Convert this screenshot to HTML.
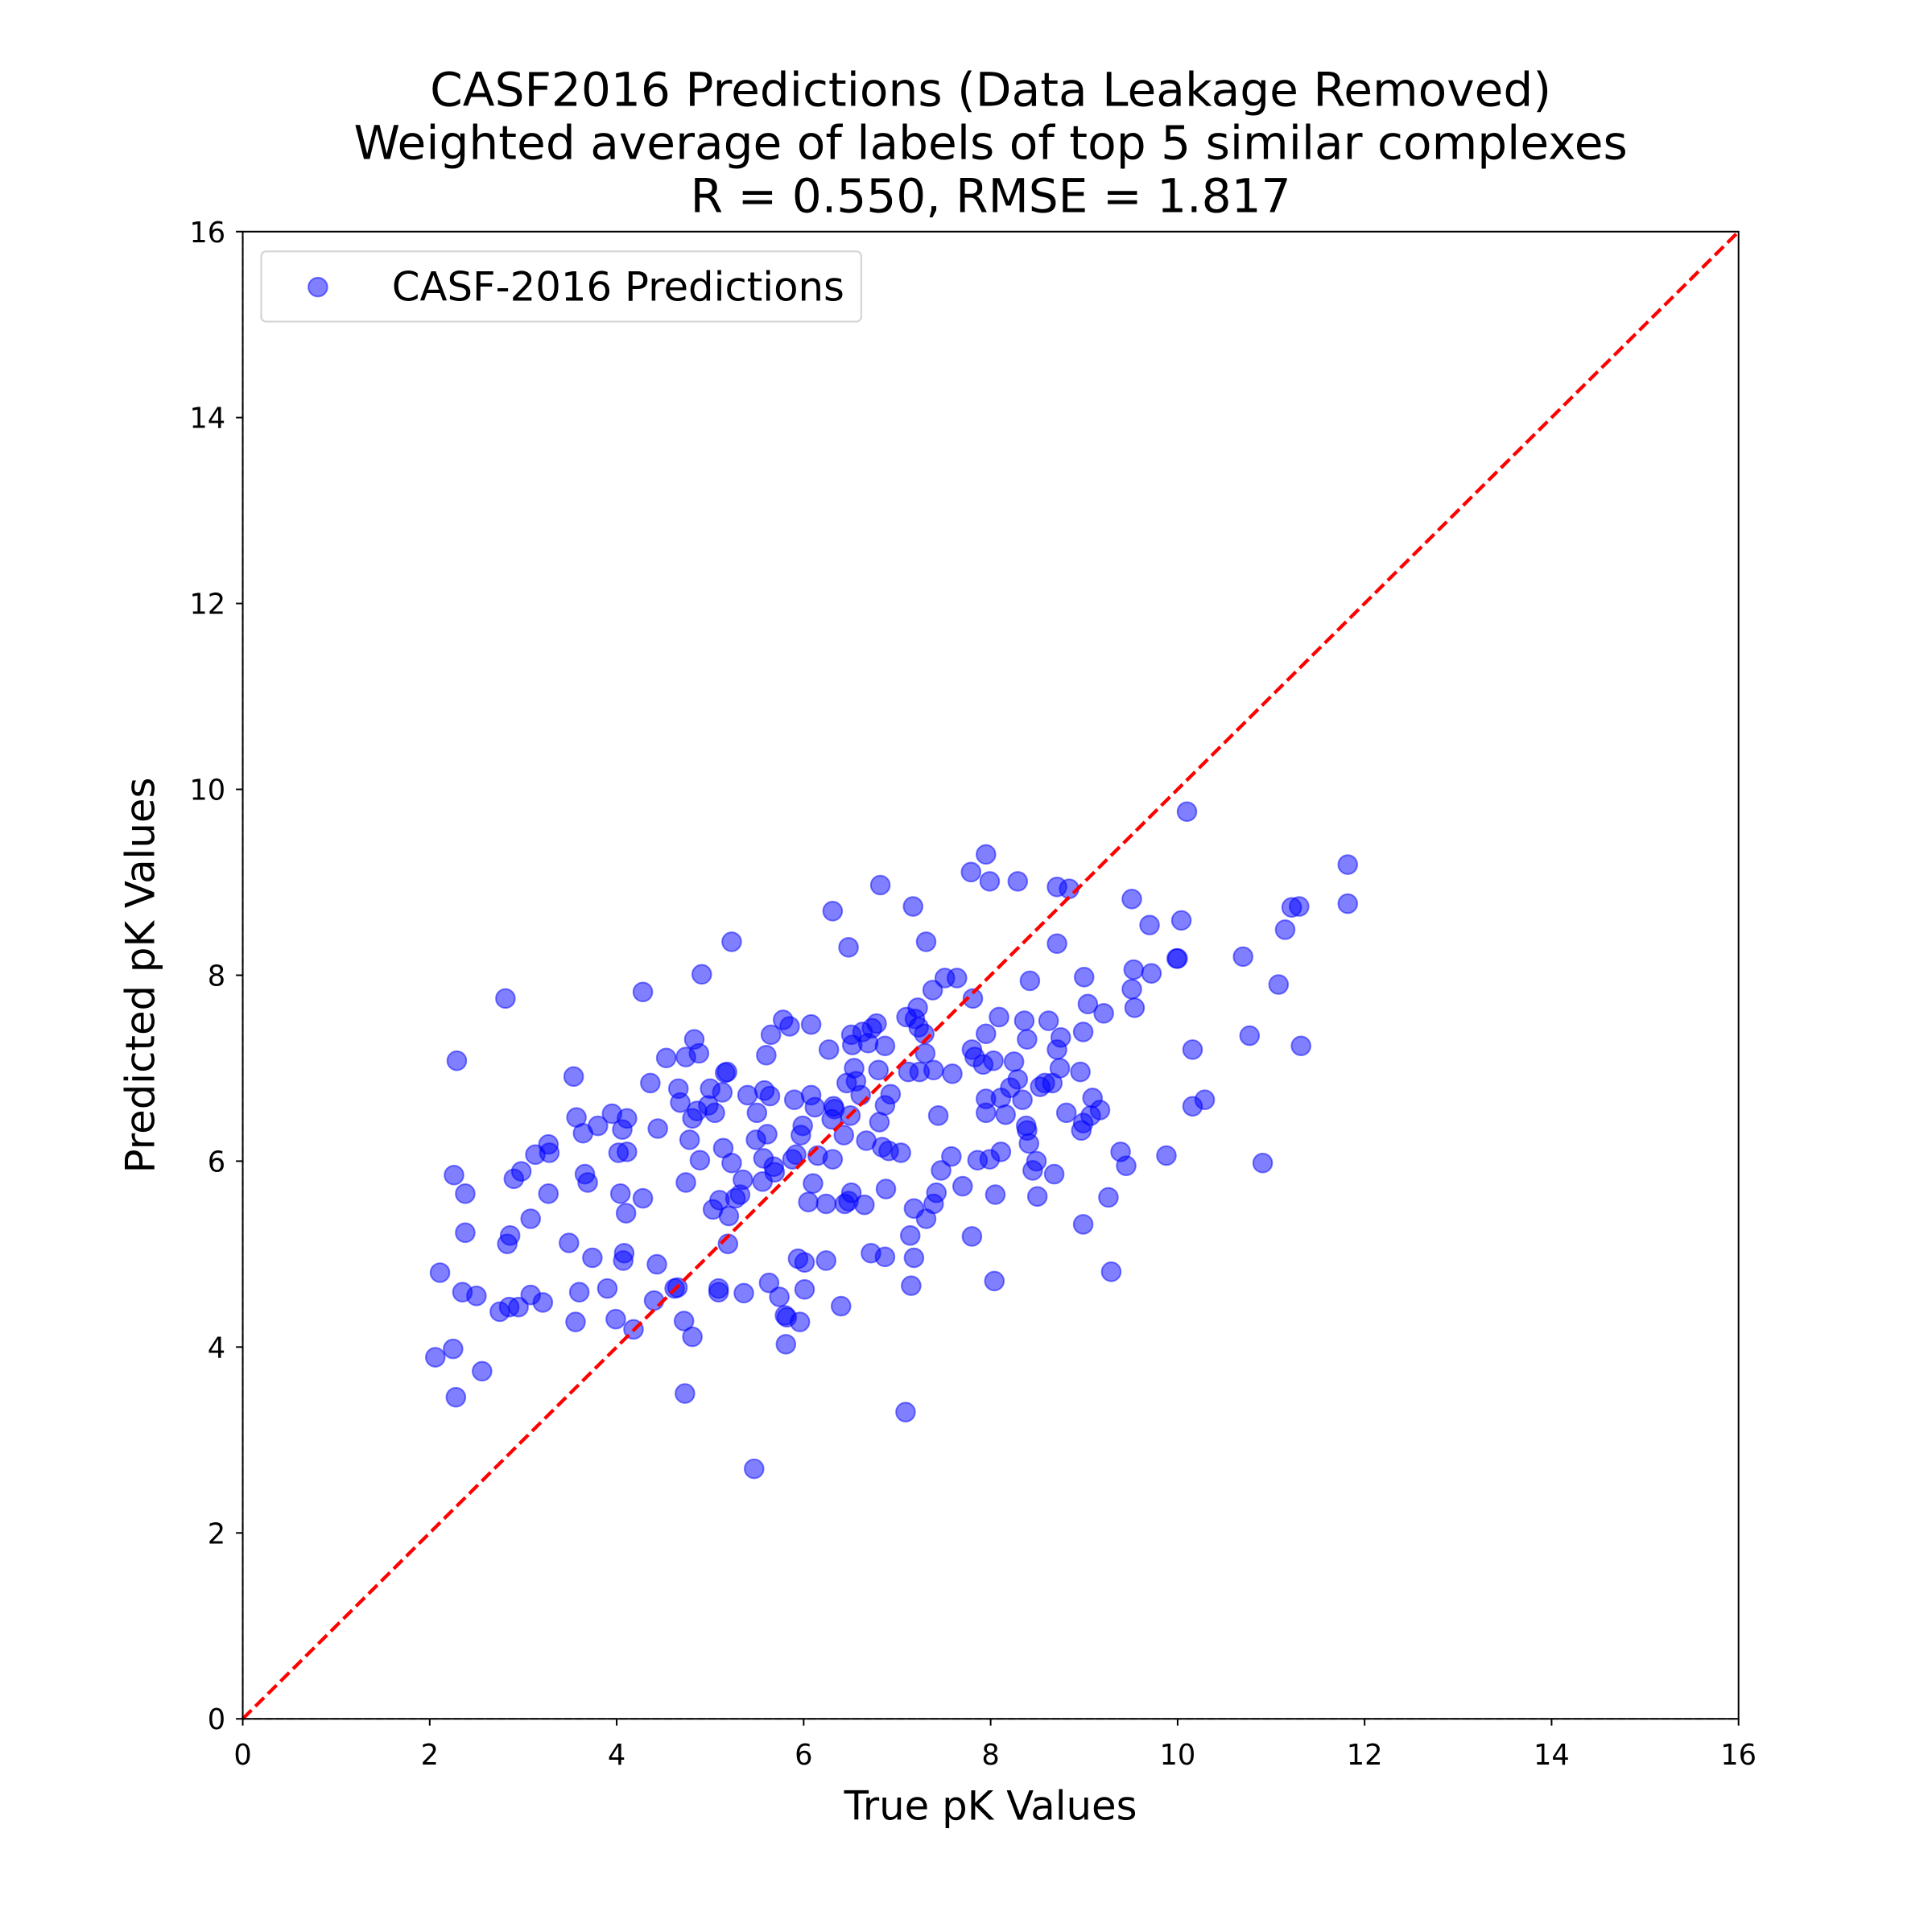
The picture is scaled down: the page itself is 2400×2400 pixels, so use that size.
<!DOCTYPE html>
<html><head><meta charset="utf-8"><style>
html,body{margin:0;padding:0;background:#fff;}
svg{display:block;font-family:"DejaVu Sans","Liberation Sans",sans-serif;}
</style></head><body>
<svg id="chart" width="2400" height="2400" viewBox="0 0 1568 1568" xmlns="http://www.w3.org/2000/svg">
<rect width="1568" height="1568" fill="#fff"/>
<g font-size="38" text-anchor="middle" fill="#000">
<text x="804" y="86">CASF2016 Predictions (Data Leakage Removed)</text>
<text x="804" y="129">Weighted average of labels of top 5 similar complexes</text>
<text x="804" y="172">R = 0.550, RMSE = 1.817</text>
</g>
<g id="grid"></g>
<g id="points"></g>
<g id="axes"></g>
</svg>
<script>
const xTicks=[0,2,4,6,8,10,12,14,16];
const yTicks=[0,2,4,6,8,10,12,14,16];
const trueVals=[2.06,2.11,2.25,2.28,2.26,2.29,2.35,2.38,2.38,2.50,2.56,2.75,2.81,2.83,2.86,2.85,2.90,2.95,2.98,3.08,3.08,3.13,3.21,3.27,3.28,3.27,3.49,3.54,3.56,3.57,3.60,3.64,3.66,3.69,3.74,3.80,3.90,3.95,3.99,4.02,4.04,4.06,4.07,4.08,4.11,4.11,4.10,4.18,4.28,4.28,4.36,4.40,4.43,4.44,4.53,4.62,4.65,4.66,4.68,4.72,4.74,4.73,4.74,4.78,4.81,4.81,4.83,4.86,4.88,4.89,4.91,4.98,5.00,5.03,5.05,5.09,5.09,5.10,5.13,5.14,5.16,5.18,5.19,5.20,5.23,5.23,5.27,5.32,5.36,5.35,5.40,5.47,5.49,5.50,5.56,5.57,5.58,5.60,5.61,5.63,5.64,5.65,5.68,5.69,5.74,5.78,5.80,5.81,5.82,5.85,5.88,5.90,5.92,5.94,5.96,5.97,5.99,6.01,6.01,6.05,6.08,6.08,6.10,6.12,6.15,6.24,6.24,6.27,6.30,6.31,6.31,6.32,6.33,6.40,6.43,6.44,6.46,6.48,6.48,6.50,6.51,6.51,6.52,6.54,6.56,6.61,6.63,6.65,6.67,6.69,6.72,6.73,6.78,6.80,6.81,6.82,6.84,6.87,6.87,6.87,6.88,6.91,6.93,7.04,7.09,7.10,7.12,7.14,7.15,7.17,7.18,7.18,7.19,7.22,7.23,7.24,7.29,7.30,7.31,7.31,7.38,7.39,7.39,7.42,7.44,7.47,7.51,7.58,7.59,7.64,7.70,7.79,7.80,7.80,7.81,7.83,7.86,7.92,7.95,7.95,7.95,7.95,7.99,7.99,8.03,8.04,8.05,8.09,8.11,8.11,8.16,8.21,8.25,8.29,8.29,8.34,8.36,8.38,8.39,8.39,8.41,8.42,8.45,8.49,8.50,8.53,8.58,8.62,8.66,8.68,8.71,8.71,8.71,8.74,8.75,8.81,8.84,8.96,8.97,8.99,8.99,8.99,9.00,9.04,9.07,9.09,9.17,9.21,9.26,9.29,9.39,9.45,9.51,9.51,9.53,9.54,9.70,9.72,9.88,9.99,10.00,10.04,10.10,10.16,10.16,10.29,10.70,10.77,10.91,11.08,11.15,11.22,11.30,11.32,11.82,11.82];
const predVals=[3.89,4.80,3.98,3.46,5.85,7.08,4.59,5.65,5.23,4.55,3.74,4.38,7.75,5.11,5.20,4.43,5.81,4.43,5.89,4.56,5.38,6.07,4.48,6.18,6.09,5.65,5.12,6.91,4.27,6.47,4.59,6.30,5.86,5.77,4.96,6.38,4.63,6.51,4.30,6.09,5.65,6.34,4.93,5.01,6.46,6.10,5.44,4.19,7.82,5.60,6.84,4.50,4.89,6.35,7.11,4.63,4.64,6.78,6.63,4.28,7.12,3.50,5.77,6.23,4.11,6.46,7.31,6.54,7.16,6.01,8.01,6.60,6.78,5.48,6.52,4.63,4.59,5.58,6.74,6.14,6.95,6.96,5.11,5.41,8.36,5.98,5.60,5.64,4.58,5.80,6.71,2.69,6.23,6.52,5.78,6.03,6.76,7.14,6.29,4.69,6.70,7.36,5.94,5.88,4.54,7.52,4.34,4.03,4.32,7.45,6.02,6.66,6.07,4.95,4.27,6.28,6.38,4.91,4.62,5.56,7.47,6.71,5.76,6.58,6.06,5.54,4.93,7.20,6.45,6.02,8.69,6.59,6.56,4.44,6.28,5.54,6.84,5.57,8.30,6.49,5.66,7.36,7.25,7.00,6.86,6.71,7.39,5.53,6.22,7.27,5.01,7.43,7.48,6.98,6.42,8.97,6.15,6.60,7.24,4.97,5.70,6.11,6.72,6.09,3.30,7.55,6.96,5.20,4.66,8.74,4.96,5.49,7.53,7.65,7.44,6.96,7.37,7.16,8.36,5.38,7.84,6.98,5.54,5.66,6.49,5.90,7.97,6.05,6.94,7.97,5.73,9.11,5.19,7.20,7.75,7.12,6.01,7.04,9.30,6.52,7.37,6.67,9.01,6.02,7.08,4.71,5.64,7.55,6.10,6.68,6.50,6.79,7.07,9.01,6.88,6.66,7.51,6.38,7.31,6.33,6.19,7.94,5.90,6.00,5.62,6.80,6.84,7.51,6.84,5.86,8.95,8.34,7.20,7.00,7.33,6.52,8.93,6.96,6.33,7.39,6.41,5.32,7.98,7.69,6.49,6.68,6.55,7.59,5.61,4.81,6.10,5.95,8.82,7.85,8.06,7.65,8.54,8.02,6.06,8.18,8.18,8.59,9.76,7.20,6.59,6.66,8.20,7.35,5.98,7.90,8.49,8.73,8.74,7.24,9.19,8.77];

const NS='http://www.w3.org/2000/svg';
const X0=197,X1=1411,Y0=1395,Y1=188,MIN=0,MAX=16;
function xs(v){return X0+(v-MIN)/(MAX-MIN)*(X1-X0);}
function ys(v){return Y0-(v-MIN)/(MAX-MIN)*(Y0-Y1);}
function mk(tag,attrs,parent){const e=document.createElementNS(NS,tag);for(const k in attrs)e.setAttribute(k,attrs[k]);parent.appendChild(e);return e;}

const grid=document.getElementById('grid');
const pts=document.getElementById('points');
const axes=document.getElementById('axes');

let zl=mk('line',{x1:xs(0),y1:ys(0),x2:xs(16),y2:ys(0),stroke:'#000','stroke-opacity':0.3,'stroke-width':1.5,'stroke-dasharray':'6,3'},grid);


let zv=mk('line',{x1:xs(0),y1:ys(0),x2:xs(0),y2:ys(16),stroke:'#000','stroke-opacity':0.3,'stroke-width':1.5,'stroke-dasharray':'6,3'},grid);



for(let i=0;i<trueVals.length;i++){
  const c=mk('circle',{cx:xs(trueVals[i]),cy:ys(predVals[i]),r:7.7,fill:'rgba(0,0,255,0.5)',stroke:'rgba(0,0,255,0.5)','stroke-width':1.3},pts);
  
  
}

let idl=mk('line',{x1:xs(MIN),y1:ys(MIN),x2:xs(MAX),y2:ys(MAX),stroke:'#ff0000','stroke-width':2.8,'stroke-dasharray':'10,4.4'},axes);



let fr=mk('rect',{x:X0,y:Y1,width:X1-X0,height:Y0-Y1,fill:'none',stroke:'#000','stroke-width':1.3},axes);



xTicks.forEach(t=>{
  const l=mk('line',{x1:xs(t),y1:Y0,x2:xs(t),y2:Y0+5.5,stroke:'#000','stroke-width':1.3},axes);
  
  
  const tx=mk('text',{x:xs(t),y:Y0+37,'font-size':23,'text-anchor':'middle',fill:'#000'},axes);
  tx.textContent=t;
  
  
});
yTicks.forEach(t=>{
  const l=mk('line',{x1:X0-5.5,y1:ys(t),x2:X0,y2:ys(t),stroke:'#000','stroke-width':1.3},axes);
  
  
  const tx=mk('text',{x:X0-14,y:ys(t)+8.5,'font-size':23,'text-anchor':'end',fill:'#000'},axes);
  tx.textContent=t;
  
  
});

let xl=mk('text',{x:(X0+X1)/2,y:1477,'font-size':32.5,'text-anchor':'middle',fill:'#000'},axes);
xl.textContent='True pK Values';


let yl=mk('text',{x:0,y:0,'font-size':32.5,'text-anchor':'middle',fill:'#000',transform:'translate(125,'+((Y0+Y1)/2)+') rotate(-90)'},axes);
yl.textContent='Predicted pK Values';



const lg=mk('g',{},axes);


mk('rect',{x:212,y:204,width:487,height:57,rx:4,fill:'#fff','fill-opacity':0.8,stroke:'#d6d6d6','stroke-width':1.5},lg);
const lm=mk('circle',{cx:258,cy:233,r:7.7,fill:'rgba(0,0,255,0.5)',stroke:'rgba(0,0,255,0.5)','stroke-width':1.3},lg);


const lt=mk('text',{x:318,y:244,'font-size':32.5,fill:'#000'},lg);
lt.textContent='CASF-2016 Predictions';


</script>
</body></html>
